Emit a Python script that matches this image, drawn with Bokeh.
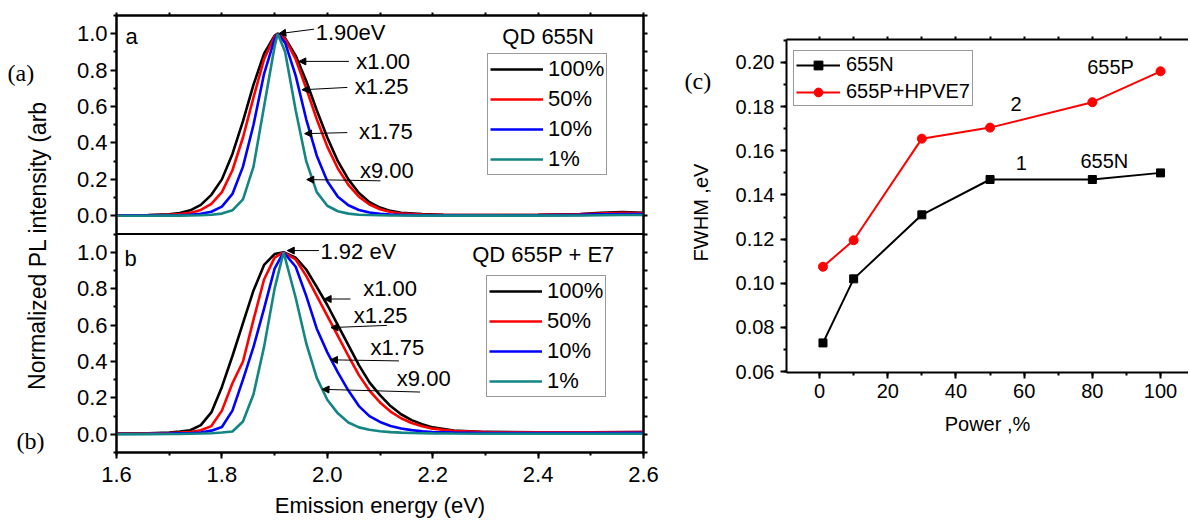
from bokeh.plotting import figure
from bokeh.models import (Range1d, LinearAxis, FixedTicker, SingleIntervalTicker,
                          CustomJSTickFormatter, PrintfTickFormatter, Label, Arrow,
                          NormalHead, Span, Legend, LegendItem)
from bokeh.layouts import row, column
from bokeh.embed import file_html
from bokeh.resources import INLINE

FONT = "Liberation Sans"
SERIF = "Liberation Serif"
H = 522

# ---------------- data: panel (a) QD 655N ----------------
energy_a = [1.60, 1.66, 1.70, 1.72, 1.74, 1.76, 1.78, 1.80, 1.82, 1.84, 1.86, 1.88, 1.90, 1.906,
            1.92, 1.94, 1.96, 1.98, 2.00, 2.02, 2.04, 2.06, 2.08, 2.10, 2.12, 2.14, 2.18, 2.22,
            2.30, 2.40, 2.48, 2.52, 2.56, 2.60]
a_100 = [0.003, 0.004, 0.008, 0.015, 0.03, 0.06, 0.115, 0.2, 0.34, 0.52, 0.72, 0.89, 0.99, 1.0,
         0.975, 0.88, 0.74, 0.58, 0.43, 0.3, 0.2, 0.125, 0.075, 0.045, 0.027, 0.017, 0.009, 0.006,
         0.004, 0.005, 0.01, 0.017, 0.02, 0.016]
a_50 = [0.002, 0.003, 0.005, 0.009, 0.016, 0.032, 0.065, 0.13, 0.25, 0.43, 0.65, 0.86, 0.985, 1.0,
        0.97, 0.86, 0.70, 0.53, 0.38, 0.26, 0.17, 0.105, 0.062, 0.036, 0.021, 0.013, 0.007, 0.005,
        0.004, 0.005, 0.008, 0.013, 0.016, 0.014]
a_10 = [0.001, 0.002, 0.003, 0.004, 0.006, 0.011, 0.022, 0.05, 0.12, 0.27, 0.5, 0.78, 0.97, 1.0,
        0.95, 0.77, 0.53, 0.33, 0.19, 0.105, 0.058, 0.032, 0.018, 0.011, 0.007, 0.005, 0.003, 0.003,
        0.002, 0.003, 0.005, 0.008, 0.01, 0.009]
a_1 = [0.0, 0.0, 0.001, 0.001, 0.002, 0.003, 0.006, 0.012, 0.03, 0.09, 0.27, 0.6, 0.93, 1.0,
       0.9, 0.58, 0.3, 0.13, 0.055, 0.025, 0.012, 0.006, 0.004, 0.003, 0.002, 0.002, 0.001, 0.001,
       0.001, 0.001, 0.002, 0.003, 0.004, 0.004]

# ---------------- data: panel (b) QD 655P + E7 ----------------
energy_b = [1.60, 1.66, 1.70, 1.72, 1.74, 1.76, 1.78, 1.80, 1.82, 1.84, 1.86, 1.88, 1.90, 1.917,
            1.94, 1.96, 1.98, 2.00, 2.02, 2.04, 2.06, 2.08, 2.10, 2.12, 2.14, 2.16, 2.18, 2.20,
            2.24, 2.30, 2.40, 2.50, 2.60]
b_100 = [0.005, 0.006, 0.01, 0.015, 0.022, 0.05, 0.12, 0.26, 0.43, 0.61, 0.79, 0.93, 0.99, 1.0,
         0.97, 0.905, 0.81, 0.71, 0.6, 0.49, 0.38, 0.285, 0.215, 0.155, 0.11, 0.078, 0.055, 0.038,
         0.02, 0.013, 0.011, 0.011, 0.012]
b_50 = [0.004, 0.005, 0.007, 0.009, 0.013, 0.022, 0.045, 0.13, 0.28, 0.40, 0.63, 0.85, 0.97, 1.0,
        0.96, 0.87, 0.76, 0.65, 0.54, 0.43, 0.325, 0.24, 0.175, 0.125, 0.088, 0.062, 0.044, 0.031,
        0.018, 0.012, 0.011, 0.011, 0.012]
b_10 = [0.002, 0.003, 0.004, 0.005, 0.006, 0.01, 0.02, 0.04, 0.13, 0.3, 0.48, 0.69, 0.91, 1.0,
        0.92, 0.76, 0.58, 0.45, 0.34, 0.24, 0.155, 0.1, 0.068, 0.046, 0.032, 0.023, 0.017, 0.013,
        0.009, 0.007, 0.007, 0.007, 0.008]
b_1 = [0.001, 0.001, 0.002, 0.002, 0.003, 0.004, 0.006, 0.01, 0.015, 0.07, 0.22, 0.48, 0.8, 1.0,
       0.75, 0.5, 0.31, 0.19, 0.115, 0.065, 0.038, 0.025, 0.017, 0.012, 0.009, 0.007, 0.006, 0.005,
       0.004, 0.003, 0.003, 0.003, 0.003]

series_labels = ["100%", "50%", "10%", "1%"]
series_colors = ["#000000", "#ff0000", "#0000ff", "#138585"]

# ---------------- data: panel (c) FWHM vs power ----------------
power = [1, 10, 30, 50, 80, 100]
fwhm_655N = [0.073, 0.102, 0.131, 0.147, 0.147, 0.150]
fwhm_655P = [0.1075, 0.1195, 0.1655, 0.1705, 0.182, 0.196]
fwhm_labels = ["655N", "655P+HPVE7"]

# ---------------- annotation placements ----------------
ann_a = [("1.90eV", 1.978, 1.005), ("x1.00", 2.055, 0.846), ("x1.25", 2.052, 0.71),
         ("x1.75", 2.060, 0.464), ("x9.00", 2.062, 0.248)]
arr_a = [(1.975, 1.025, 1.908, 1.0), (2.041, 0.848, 1.946, 0.848), (2.038, 0.705, 1.952, 0.692),
         (2.038, 0.457, 1.957, 0.451), (2.101, 0.192, 1.961, 0.199)]
ann_b = [("1.92 eV", 1.987, 1.004), ("x1.00", 2.068, 0.80), ("x1.25", 2.050, 0.65),
         ("x1.75", 2.082, 0.474), ("x9.00", 2.132, 0.307)]
arr_b = [(1.984, 1.009, 1.924, 1.009), (2.044, 0.743, 1.994, 0.743), (2.113, 0.598, 2.007, 0.586),
         (2.136, 0.403, 2.006, 0.409), (2.176, 0.232, 1.990, 0.247)]


def tag_figure(width):
    f = figure(width=width, height=H, x_range=Range1d(0, width), y_range=Range1d(H, 0),
               output_backend="svg", toolbar_location=None, min_border=0,
               x_axis_location=None, y_axis_location=None)
    f.grid.visible = False
    f.outline_line_color = None
    return f


# =============== strip left of panels (a)/(b): tags and y title ===============
t1 = tag_figure(58)
t1.add_layout(Label(x=37, y=245, text="Normalized PL intensity (arb", angle=1.5707963,
                    text_font=FONT, text_font_size="23px", text_align="center",
                    text_baseline="middle", text_color="black"))
t1.add_layout(Label(x=7, y=72, text="(a)", text_font=SERIF, text_font_size="24px",
                    text_baseline="middle", text_color="black"))
t1.add_layout(Label(x=16, y=440, text="(b)", text_font=SERIF, text_font_size="24px",
                    text_baseline="middle", text_color="black"))

# =============== left figure: panels (a) and (b) stacked ===============
p = figure(width=602, height=H, x_range=Range1d(1.6, 2.6), y_range=Range1d(-0.1, 2.3),
           output_backend="svg", toolbar_location=None,
           min_border_left=58, min_border_right=17, min_border_top=15, min_border_bottom=70)
p.extra_y_ranges = {"top": Range1d(-1.3, 1.1)}
p.grid.visible = False
p.outline_line_color = "black"
p.outline_line_width = 2

major_ticks = [0.0, 0.2, 0.4, 0.6, 0.8, 1.0, 1.2, 1.4, 1.6, 1.8, 2.0, 2.2]
minor_ticks = [-0.1, 0.1, 0.3, 0.5, 0.7, 0.9, 1.1, 1.3, 1.5, 1.7, 1.9, 2.1, 2.3]
yfmt = CustomJSTickFormatter(code="""
    const v = tick > 1.15 ? tick - 1.2 : tick;
    return (Math.round(v * 10) / 10).toFixed(1);
""")

xa = p.xaxis[0]
xa.ticker = SingleIntervalTicker(interval=0.2, num_minor_ticks=2)
xa.formatter = PrintfTickFormatter(format="%.1f")
xa.axis_label = "Emission energy (eV)"
ya = p.yaxis[0]
ya.ticker = FixedTicker(ticks=major_ticks, minor_ticks=minor_ticks)
ya.formatter = yfmt
for ax in (xa, ya):
    ax.axis_line_width = 2
    ax.major_tick_line_width = 2
    ax.minor_tick_line_width = 2
    ax.major_tick_out = 6
    ax.major_tick_in = 0
    ax.minor_tick_out = 3
    ax.minor_tick_in = 0
    ax.major_label_text_font = FONT
    ax.major_label_text_font_size = "22px"
    ax.major_label_text_color = "black"
    ax.axis_label_text_font = FONT
    ax.axis_label_text_font_size = "22px"
    ax.axis_label_text_font_style = "normal"
    ax.axis_label_text_color = "black"
xa.major_label_standoff = 8
xa.axis_label_standoff = 8
ya.major_label_standoff = 3

blank = CustomJSTickFormatter(code="return '';")
top_ax = LinearAxis(ticker=SingleIntervalTicker(interval=0.1, num_minor_ticks=0), formatter=blank,
                    major_tick_out=3, major_tick_in=0, minor_tick_out=0, minor_tick_in=0,
                    major_label_standoff=0, major_label_text_font_size="1px",
                    axis_line_width=2, major_tick_line_width=2)
p.add_layout(top_ax, "above")
right_ax = LinearAxis(ticker=FixedTicker(ticks=major_ticks + minor_ticks), formatter=blank,
                      major_tick_out=4, major_tick_in=0, minor_tick_out=0, minor_tick_in=0,
                      major_label_standoff=0, major_label_text_font_size="1px",
                      axis_line_width=2, major_tick_line_width=2)
p.add_layout(right_ax, "right")

p.add_layout(Span(location=1.1, dimension="width", line_color="black", line_width=2))

legend_kw = dict(border_line_color="#333333", border_line_width=1, background_fill_alpha=0,
                 label_text_font=FONT, label_text_font_size="22px", label_text_color="black",
                 glyph_width=53, glyph_height=24, label_height=24, label_standoff=5, spacing=4,
                 padding=2, margin=0)

items_a = []
for vals, col, lab in zip([a_100, a_50, a_10, a_1], series_colors, series_labels):
    r = p.line(energy_a, vals, line_color=col, line_width=2.6, y_range_name="top")
    items_a.append(LegendItem(label=lab, renderers=[r]))
items_b = []
for vals, col, lab in zip([b_100, b_50, b_10, b_1], series_colors, series_labels):
    r = p.line(energy_b, vals, line_color=col, line_width=2.6)
    items_b.append(LegendItem(label=lab, renderers=[r]))

p.add_layout(Legend(items=items_a, location=(371, 277), **legend_kw), "center")
p.add_layout(Legend(items=items_b, location=(370, 55), **legend_kw), "center")

txt_kw = dict(text_font=FONT, text_font_size="22px", text_color="black",
              text_baseline="middle", text_align="left")
for (t, x, y) in ann_a:
    p.add_layout(Label(x=x, y=y, text=t, y_range_name="top", **txt_kw))
for (x0, y0, x1, y1) in arr_a:
    p.add_layout(Arrow(x_start=x0, y_start=y0, x_end=x1, y_end=y1, y_range_name="top",
                       line_width=1, line_color="black",
                       end=NormalHead(size=7, fill_color="black", line_color="black")))
for (t, x, y) in ann_b:
    p.add_layout(Label(x=x, y=y, text=t, **txt_kw))
for (x0, y0, x1, y1) in arr_b:
    p.add_layout(Arrow(x_start=x0, y_start=y0, x_end=x1, y_end=y1,
                       line_width=1, line_color="black",
                       end=NormalHead(size=7, fill_color="black", line_color="black")))

p.add_layout(Label(x=1.617, y=0.984, text="a", y_range_name="top", **txt_kw))
p.add_layout(Label(x=2.332, y=0.985, text="QD 655N", y_range_name="top", **txt_kw))
p.add_layout(Label(x=1.615, y=0.967, text="b", **txt_kw))
p.add_layout(Label(x=2.275, y=0.985, text="QD 655P + E7", **txt_kw))

# =============== strip left of panel (c): tag and y title ===============
t2 = tag_figure(55)
t2.add_layout(Label(x=24, y=80, text="(c)", text_font=SERIF, text_font_size="24px",
                    text_baseline="middle", text_color="black"))
t2.add_layout(Label(x=40, y=212, text="FWHM ,eV", angle=1.5707963,
                    text_font=FONT, text_font_size="20px", text_align="center",
                    text_baseline="middle", text_color="black"))

# =============== right figure: panel (c) ===============
q = figure(width=473, height=H, x_range=Range1d(-9.7, 108.2), y_range=Range1d(0.0596, 0.2104),
           output_backend="svg", toolbar_location=None,
           min_border_left=71, min_border_right=0, min_border_top=39, min_border_bottom=150)
q.grid.visible = False
q.outline_line_color = None

qx = q.xaxis[0]
qx.ticker = SingleIntervalTicker(interval=20, num_minor_ticks=2)
qx.axis_label = "Power ,%"
qy = q.yaxis[0]
qy.ticker = SingleIntervalTicker(interval=0.02, num_minor_ticks=2)
qy.formatter = PrintfTickFormatter(format="%.2f")
for ax in (qx, qy):
    ax.axis_line_width = 2
    ax.major_tick_line_width = 2
    ax.minor_tick_line_width = 2
    ax.major_tick_out = 6
    ax.major_tick_in = 0
    ax.minor_tick_out = 3
    ax.minor_tick_in = 0
    ax.major_label_text_font = FONT
    ax.major_label_text_font_size = "20px"
    ax.major_label_text_color = "black"
    ax.axis_label_text_font = FONT
    ax.axis_label_text_font_size = "20px"
    ax.axis_label_text_font_style = "normal"
    ax.axis_label_text_color = "black"
qx.major_label_standoff = 5
qx.axis_label_standoff = 12
qy.major_label_standoff = 6

q_top = LinearAxis(ticker=SingleIntervalTicker(interval=10, num_minor_ticks=0), formatter=blank,
                   major_tick_out=3, major_tick_in=0, minor_tick_out=0, minor_tick_in=0,
                   major_label_standoff=0, major_label_text_font_size="1px",
                   axis_line_width=2, major_tick_line_width=2)
q.add_layout(q_top, "above")

lN = q.line(power, fwhm_655N, line_color="black", line_width=2)
sN = q.scatter(power, fwhm_655N, marker="square", size=8, fill_color="black", line_color="black")
lP = q.line(power, fwhm_655P, line_color="#ff0000", line_width=2)
sP = q.scatter(power, fwhm_655P, marker="circle", size=9, fill_color="#ff0000", line_color="#ff0000")

q.add_layout(Legend(items=[LegendItem(label=fwhm_labels[0], renderers=[lN, sN]),
                           LegendItem(label=fwhm_labels[1], renderers=[lP, sP])],
                    location=(7, 266), border_line_color="#333333", border_line_width=1,
                    background_fill_alpha=0, label_text_font=FONT, label_text_font_size="20px",
                    label_text_color="black",
                    glyph_width=44, glyph_height=22, label_height=22, label_standoff=6,
                    spacing=4, padding=2, margin=0), "center")

ctxt = dict(text_font=FONT, text_font_size="20px", text_color="black",
            text_baseline="middle", text_align="left")
q.add_layout(Label(x=78.5, y=0.198, text="655P", **ctxt))
q.add_layout(Label(x=56.0, y=0.1814, text="2", **ctxt))
q.add_layout(Label(x=57.5, y=0.1546, text="1", **ctxt))
q.add_layout(Label(x=76.5, y=0.1554, text="655N", **ctxt))

layout = row(column(t1), column(p), column(t2), column(q))
open("out.html", "w").write(file_html(layout, INLINE))
